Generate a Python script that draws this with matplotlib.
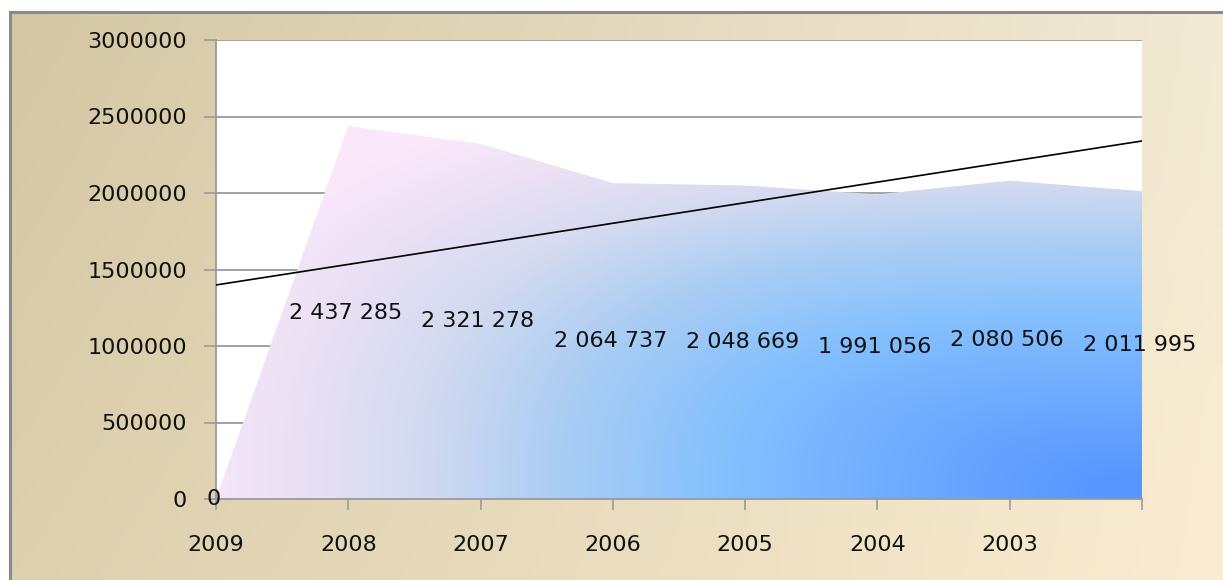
import matplotlib
matplotlib.use("Agg")
import matplotlib.pyplot as plt
import numpy as np
from matplotlib.colors import LinearSegmentedColormap
from matplotlib.patches import Polygon

years = ["2009", "2008", "2007", "2006", "2005", "2004", "2003", ""]
values = [0, 2437285, 2321278, 2064737, 2048669, 1991056, 2080506, 2011995]
y_ticks = [0, 500000, 1000000, 1500000, 2000000, 2500000, 3000000]

W, H = 1223, 580
plt.rcParams["font.family"] = ["DejaVu Sans"]


def _fmt(v):
    return f"{v:,}".replace(",", " ")


def _rgb(c):
    return tuple(ch / 255 for ch in c)


fig = plt.figure(figsize=(W / 100, H / 100), dpi=100)
fig.patch.set_facecolor("white")

# outer frame with tan -> cream gradient
bg = fig.add_axes([10 / W, 0, 1 - 10 / W, 1 - 12 / H])
gx = np.linspace(0, 1, 200)
gy = np.linspace(0, 1, 100)
GX, GY = np.meshgrid(gx, gy)
tl, tr = np.array(_rgb((213, 199, 163))), np.array(_rgb((242, 234, 213)))
bl, br = np.array(_rgb((220, 208, 175))), np.array(_rgb((250, 236, 208)))
top = tl * (1 - GX[..., None]) + tr * GX[..., None]
bot = bl * (1 - GX[..., None]) + br * GX[..., None]
bg_img = top * (1 - GY[..., None]) + bot * GY[..., None]
bg.imshow(bg_img, aspect="auto", extent=[0, 1, 0, 1], origin="upper")
bg.set_xticks([])
bg.set_yticks([])
for side in ["right", "bottom"]:
    bg.spines[side].set_visible(False)
for side in ["left", "top"]:
    bg.spines[side].set_color("#8a8a8a")
    bg.spines[side].set_linewidth(2.2)

# plot area
ax = fig.add_axes([216 / W, (H - 499) / H, 926 / W, 459 / H])
ax.set_facecolor("white")
x = np.arange(len(values))
ax.set_xlim(0, len(values) - 1)
ax.set_ylim(0, 3000000)

ax.set_axisbelow(True)
ax.yaxis.grid(True, color="#9a9a9a", linewidth=1.3)
ax.xaxis.grid(False)
ax.spines["top"].set_visible(False)
ax.spines["right"].set_visible(False)
for side in ["left", "bottom"]:
    ax.spines[side].set_color("#9a9a9a")
    ax.spines[side].set_linewidth(1.3)

# area with gradient fill clipped to the series polygon
cmap = LinearSegmentedColormap.from_list(
    "area",
    [
        (0.0, _rgb((250, 232, 250))),
        (0.12, _rgb((236, 225, 245))),
        (0.27, _rgb((210, 218, 240))),
        (0.42, _rgb((170, 205, 243))),
        (0.6, _rgb((132, 192, 254))),
        (0.8, _rgb((110, 170, 255))),
        (1.0, _rgb((88, 150, 255))),
    ],
)
p = np.linspace(0, 1, 400)
q = np.linspace(0, 1, 300)
P, Q = np.meshgrid(p, q)
dx = 1 - P
dy = Q / 0.88
m = (dx ** 3 + dy ** 3) ** (1 / 3)
t = np.clip(1.05 - m, 0, 1)
verts = list(zip(x, values)) + [(x[-1], 0), (x[0], 0)]
poly = Polygon(verts, closed=True, facecolor="none", edgecolor="none")
ax.add_patch(poly)
im = ax.imshow(t, cmap=cmap, vmin=0, vmax=1, origin="lower", aspect="auto",
               extent=[x[0], x[-1], 0, 3000000], interpolation="bilinear", zorder=1)
im.set_clip_path(poly)

# linear trendline
coef = np.polyfit(x, values, 1)
ax.plot(x, np.polyval(coef, x), color="black", linewidth=1.2, zorder=3)

# data labels
for xi, v in zip(x, values):
    ax.text(xi - 0.02, v / 2, _fmt(v), ha="center", va="center", fontsize=16,
            color="#111111", zorder=4, clip_on=False)

ax.set_yticks(y_ticks)
ax.set_yticklabels([str(v) for v in y_ticks])
ax.set_xticks(x)
ax.set_xticklabels(years)
ax.tick_params(axis="y", length=9, width=1.2, color="#9a9a9a", pad=12,
               labelsize=16, labelcolor="#111111")
ax.tick_params(axis="x", length=8, width=1.2, color="#9a9a9a", pad=18,
               labelsize=16, labelcolor="#111111")

fig.savefig("out.png", dpi=100)
